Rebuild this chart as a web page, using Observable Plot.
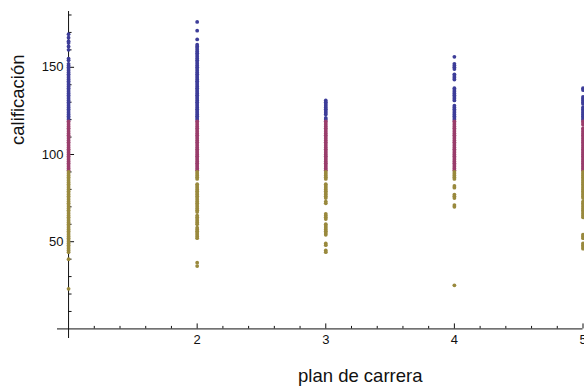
<!DOCTYPE html>
<html><head><meta charset="utf-8">
<script src="https://cdn.jsdelivr.net/npm/d3@7"></script>
<script src="https://cdn.jsdelivr.net/npm/@observablehq/plot@0.6"></script>
<style>body{margin:0;background:#fff}</style>
</head><body><div id="chart"></div>
<script>
const plans = [1, 2, 3, 4, 5];
const plan1 = [169,167,165,164,162,160,155,154,152,151,150,149,148,147,146,145,144,143,142,141,140,139,138,137,136,135,134,133,132,131,130,129,128,127,126,125,124,123,122,121,120,
  119,118,117,116,115,114,113,112,111,110,109,108,107,106,105,104,103,102,101,100,99,98,97,96,95,94,93,92,91,
  90,89,88,87,86,85,84,83,82,81,80,79,78,77,76,75,74,73,72,71,70,69,68,67,66,65,64,63,62,61,60,59,58,57,56,55,54,53,52,51,50,49,48,47,46,45,44,40,23];
const plan2 = [176,171,166,163,162,161,160,159,158,157,156,155,154,153,152,151,150,149,148,147,146,145,144,143,142,141,140,139,138,137,136,135,134,133,132,131,130,129,128,127,126,125,124,123,122,121,120,
  119,118,117,116,115,114,113,112,111,110,109,108,107,106,105,104,103,102,101,100,99,98,97,96,95,94,93,92,91,
  90,89,88,87,86,83,82,81,80,79,78,77,76,75,74,73,72,71,70,69,68,67,65,64,63,62,61,60,58,57,56,55,54,53,52,38,36];
const plan3 = [131,130,129,128,127,126,125,124,123,121,120,
  119,118,117,116,115,114,113,112,111,110,109,108,107,106,105,104,103,102,101,100,99,98,97,96,95,94,93,92,91,
  90,89,88,87,86,83,82,81,80,79,78,77,76,75,73,72,66,65,64,63,60,59,58,57,56,55,54,49,48,45,44];
const plan4 = [156,152,151,150,149,146,145,144,143,138,137,136,135,134,133,132,131,128,127,126,125,124,123,122,121,120,
  119,118,117,116,115,114,113,112,111,110,109,108,107,106,105,104,103,102,101,100,99,98,97,96,95,94,93,92,91,
  90,89,88,87,86,82,81,77,76,75,71,70,25];
const plan5 = [138,137,133,132,131,130,129,127,126,125,124,123,122,121,120,
  119,118,117,115,114,113,112,111,110,109,108,107,106,105,104,103,102,101,100,99,98,97,96,95,94,93,92,91,
  90,89,88,87,86,85,84,83,82,81,80,79,78,77,76,75,73,72,71,70,69,68,67,66,65,64,54,53,52,49,48,47,46];
const bands = ["alto", "medio", "bajo"];
const cutHigh = 120, cutLow = 90;
const bandColors = ["#3d3d99", "#993d6b", "#99893d"];
const xTicks = [2, 3, 4, 5];
const xMinor = [1.2,1.4,1.6,1.8,2.2,2.4,2.6,2.8,3.2,3.4,3.6,3.8,4.2,4.4,4.6,4.8];
const yTicks = [50, 100, 150];
const yMinor = [10,20,30,40,60,70,80,90,110,120,130,140,160,170,180];
const xTitle = "plan de carrera";
const yTitle = "calificación";

const series = [plan1, plan2, plan3, plan4, plan5];
const data = series.flatMap((arr, i) => arr.map(v => ({
  plan: plans[i], score: v,
  band: v >= cutHigh ? bands[0] : v > cutLow ? bands[1] : bands[2]
})));

const xLo = 0.914, xHi = 5, yLo = -5.5, yHi = 182;
const pxX = (5 - 0.914) / (582.5 - 57); // data units per pixel
const pxY = (182 + 5.5) / (338 - 11);
const font = "Liberation Sans, Arial, sans-serif";

const chart = Plot.plot({
  width: 584, height: 386,
  marginLeft: 57, marginRight: 1.5, marginTop: 11, marginBottom: 48,
  style: {fontFamily: font, background: "#fff", overflow: "visible"},
  x: {domain: [xLo, xHi], axis: null},
  y: {domain: [yLo, yHi], axis: null},
  color: {domain: bands, range: bandColors},
  marks: [
    Plot.ruleY([0], {x1: xLo, x2: xHi, stroke: "#111", strokeWidth: 1}),
    Plot.ruleX([1], {y1: yLo, y2: yHi, stroke: "#111", strokeWidth: 1}),
    Plot.ruleX(xTicks, {y1: 0, y2: 5 * pxY, stroke: "#111"}),
    Plot.ruleX(xMinor, {y1: 0, y2: 2.5 * pxY, stroke: "#111"}),
    Plot.ruleY(yTicks, {x1: 1, x2: 1 + 6 * pxX, stroke: "#111"}),
    Plot.ruleY(yMinor, {x1: 1, x2: 1 + 3.5 * pxX, stroke: "#111"}),
    Plot.text(xTicks, {x: d => d, y: 0, dy: 11, text: d => String(d), fontSize: 13, fill: "#111", lineAnchor: "middle"}),
    Plot.text(yTicks, {x: 1, y: d => d, dx: -5, text: d => String(d), textAnchor: "end", fontSize: 13, fill: "#111", lineAnchor: "middle"}),
    Plot.dot(data, {x: "plan", y: "score", fill: "band", r: 1.9}),
    Plot.text([xTitle], {frameAnchor: "bottom", dx: 40, dy: 43, text: d => d, fontSize: 18.5, fill: "#111", lineAnchor: "bottom"}),
    Plot.text([yTitle], {frameAnchor: "left", dx: -39, dy: -30, text: d => d, rotate: -90, fontSize: 18.5, fill: "#111", lineAnchor: "middle"})
  ]
});
document.getElementById("chart").appendChild(chart);
</script>
</body></html>
